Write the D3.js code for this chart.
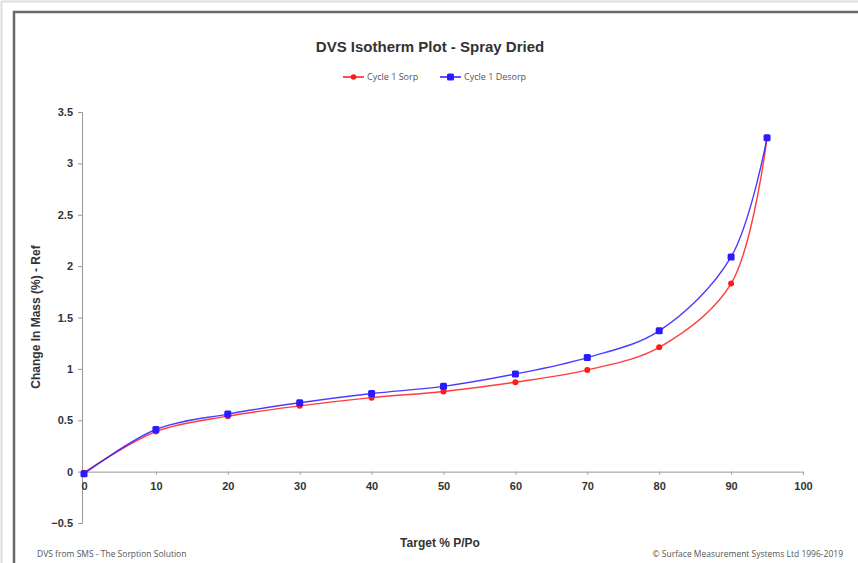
<!DOCTYPE html>
<html><head><meta charset="utf-8">
<script src="https://cdn.jsdelivr.net/npm/d3@7"></script>
<style>body{margin:0;background:#fff}svg{display:block}</style>
</head><body><svg id="c" width="858" height="563"></svg>
<script>
const xValues = [0, 10, 20, 30, 40, 50, 60, 70, 80, 90, 95];
const sorp = [-0.01, 0.39, 0.54, 0.64, 0.72, 0.78, 0.87, 0.99, 1.21, 1.83, 3.25];
const desorp = [-0.02, 0.41, 0.56, 0.67, 0.76, 0.83, 0.95, 1.11, 1.37, 2.09, 3.25];
const xTicks = [0, 10, 20, 30, 40, 50, 60, 70, 80, 90, 100];
const yTicks = [-0.5, 0, 0.5, 1, 1.5, 2, 2.5, 3, 3.5];
const seriesNames = ["Cycle 1 Sorp", "Cycle 1 Desorp"];
const seriesColors = ["#ff1a1a", "#2a1aff"];

const svg = d3.select("#c");
// frames
svg.append("rect").attr("x",1.5).attr("y",1.5).attr("width",900).attr("height",600)
  .attr("fill","none").attr("stroke","#ddd").attr("stroke-width",2);
svg.append("rect").attr("x",14).attr("y",12).attr("width",900).attr("height",600)
  .attr("fill","#fff").attr("stroke","#6a6a6a").attr("stroke-width",2.5);

const x = d3.scaleLinear().domain([0,100]).range([84,803]);
const y = d3.scaleLinear().domain([-0.5,3.5]).range([523,112]);

// title
svg.append("text").attr("x",430).attr("y",52).attr("text-anchor","middle")
  .attr("font-family","Liberation Sans, Arial, sans-serif").attr("font-weight","bold")
  .attr("font-size",15).attr("fill","#333").text("DVS Isotherm Plot - Spray Dried");

// y axis
const yAxis = d3.axisLeft(y).tickValues(yTicks).tickSize(4).tickFormat(d3.format("~g"));
const gy = svg.append("g").attr("transform",`translate(${x(0)-2},0)`).call(yAxis);
gy.select(".domain").attr("stroke","#999");
gy.selectAll(".tick line").attr("stroke","#999");
gy.selectAll(".tick text").attr("font-family","Liberation Sans, Arial, sans-serif")
  .attr("font-weight","bold").attr("font-size",11).attr("fill","#333").attr("x",-9);

// x axis at y=0
const xAxis = d3.axisBottom(x).tickValues(xTicks).tickSize(3).tickFormat(d3.format("d"));
const gx = svg.append("g").attr("transform",`translate(0,${y(0)})`).call(xAxis);
gx.select(".domain").attr("stroke","#999");
gx.selectAll(".tick line").attr("stroke","#999");
gx.selectAll(".tick text").attr("font-family","Liberation Sans, Arial, sans-serif")
  .attr("font-weight","bold").attr("font-size",11).attr("fill","#333").attr("y",11);

// axis titles
svg.append("text").attr("transform",`translate(40,317) rotate(-90)`).attr("text-anchor","middle")
  .attr("font-family","Liberation Sans, Arial, sans-serif").attr("font-weight","bold")
  .attr("font-size",12).attr("fill","#333").text("Change In Mass (%) - Ref");
svg.append("text").attr("x",440).attr("y",547).attr("text-anchor","middle")
  .attr("font-family","Liberation Sans, Arial, sans-serif").attr("font-weight","bold")
  .attr("font-size",12).attr("fill","#333").text("Target % P/Po");

// lines
const line = d3.line().x((d,i)=>x(xValues[i])).y(d=>y(d)).curve(d3.curveCatmullRom.alpha(0.5));
const data = [sorp, desorp];
data.forEach((s,k)=>{
  svg.append("path").datum(s).attr("d",line).attr("fill","none")
    .attr("stroke",seriesColors[k]).attr("stroke-width",1.4).attr("opacity",0.85);
});
// markers
svg.append("g").selectAll("circle").data(sorp).join("circle")
  .attr("cx",(d,i)=>x(xValues[i])).attr("cy",d=>y(d)).attr("r",3).attr("fill",seriesColors[0]);
svg.append("g").selectAll("rect").data(desorp).join("rect")
  .attr("x",(d,i)=>x(xValues[i])-3.5).attr("y",d=>y(d)-3.5).attr("width",7).attr("height",7)
  .attr("rx",1.5).attr("fill",seriesColors[1]);

// legend
const leg = [{x:343},{x:440}];
leg.forEach((l,k)=>{
  svg.append("line").attr("x1",l.x).attr("x2",l.x+21).attr("y1",77).attr("y2",77)
    .attr("stroke",seriesColors[k]).attr("stroke-width",1.5);
  if(k===0) svg.append("circle").attr("cx",l.x+10.5).attr("cy",77).attr("r",2.8).attr("fill",seriesColors[k]);
  else svg.append("rect").attr("x",l.x+7).attr("y",73.5).attr("width",7).attr("height",7).attr("rx",1.5).attr("fill",seriesColors[k]);
  svg.append("text").attr("x",l.x+24).attr("y",80).attr("font-family","Liberation Sans Narrow, Open Sans, sans-serif")
    .attr("font-size",9).attr("fill","#555").text(seriesNames[k]);
});

// footers
svg.append("text").attr("x",37).attr("y",557).attr("font-family","Liberation Sans Narrow, Open Sans, sans-serif")
  .attr("font-size",8.5).attr("fill","#555").text("DVS from SMS - The Sorption Solution");
svg.append("text").attr("x",843).attr("y",557).attr("text-anchor","end").attr("font-family","Liberation Sans Narrow, Open Sans, sans-serif")
  .attr("font-size",8.5).attr("fill","#555").text("© Surface Measurement Systems Ltd 1996-2019");
</script></body></html>
